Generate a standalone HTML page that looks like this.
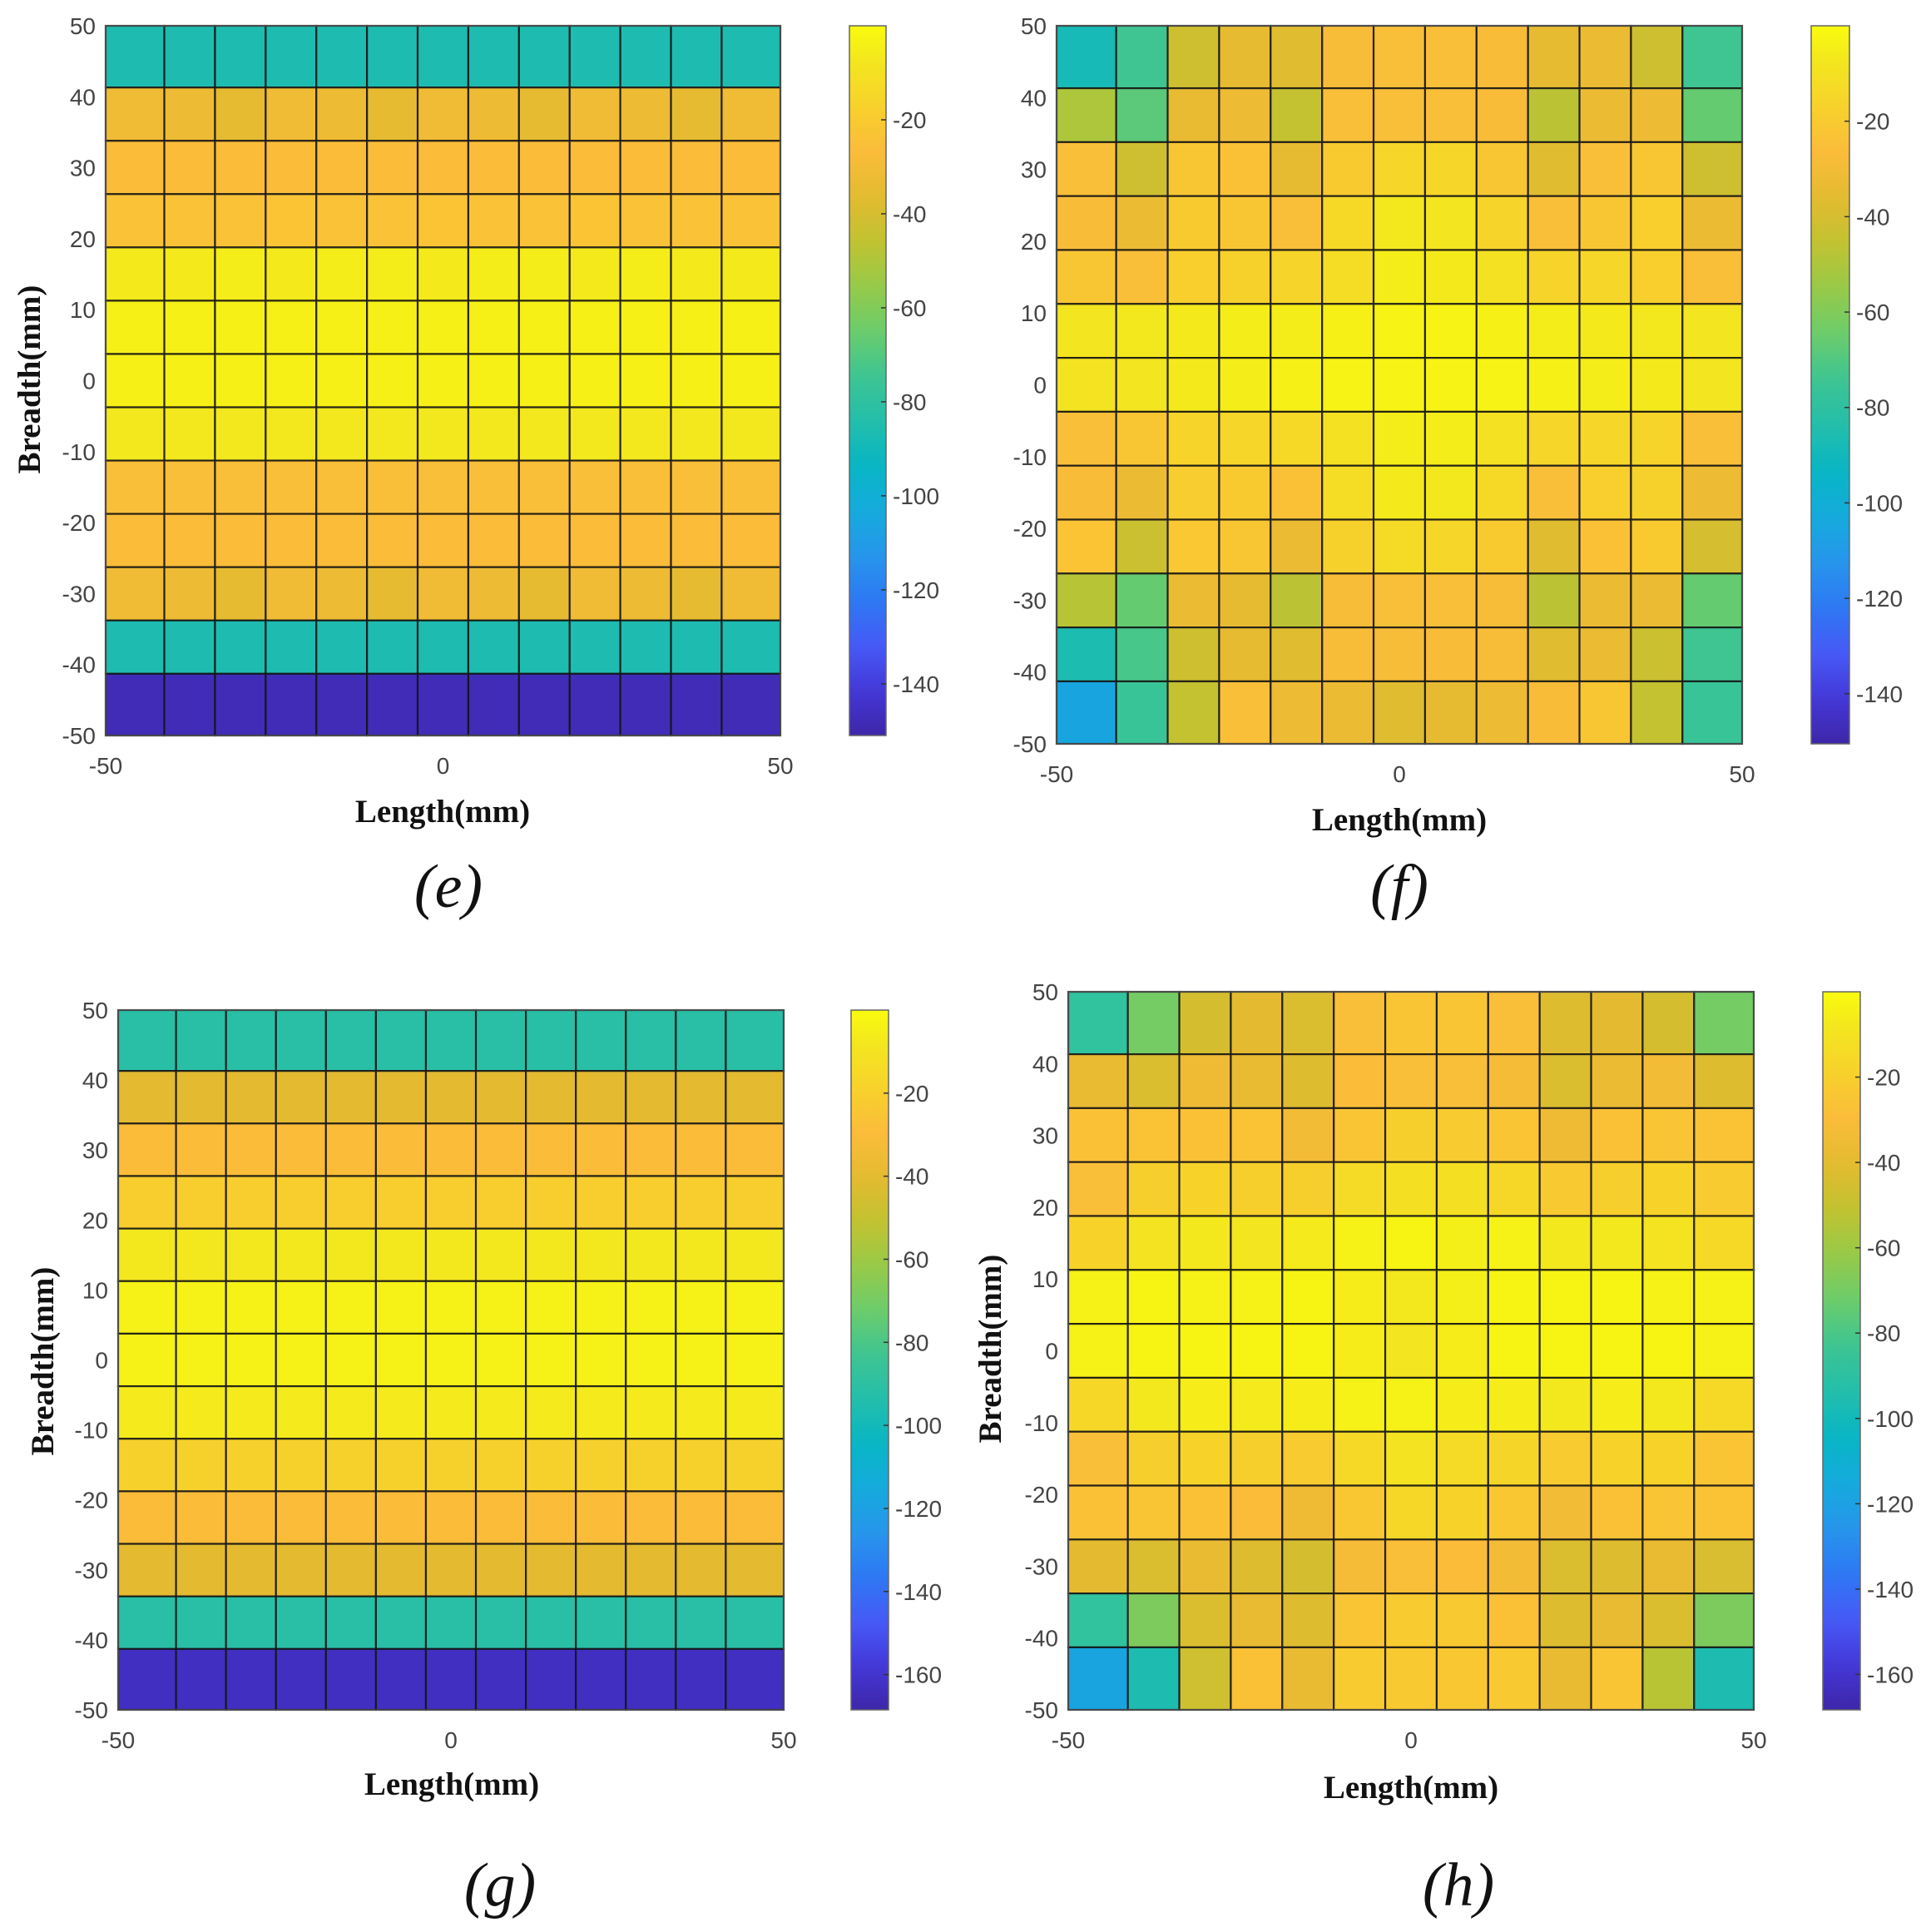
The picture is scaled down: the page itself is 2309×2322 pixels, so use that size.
<!DOCTYPE html>
<html>
<head>
<meta charset="utf-8">
<style>
  html, body { margin: 0; padding: 0; background: #fff; }
  svg { display: block; }
  .tick { font-family: "Liberation Sans", sans-serif; font-size: 28px; fill: #444; }
  .axlabel { font-family: "Liberation Serif", serif; font-size: 39px; font-weight: bold; fill: #111; }
  .caption { font-family: "Liberation Serif", serif; font-size: 74px; font-style: italic; fill: #111; }
</style>
</head>
<body>
<svg id="fig" width="2309" height="2322" viewBox="0 0 2309 2322" xmlns="http://www.w3.org/2000/svg"></svg>
<script>
// ---- data (rows top -> bottom, columns left -> right) ----
const eValues = [
  [-86,-86,-86,-86,-86,-86,-86,-86,-86,-86,-86,-86,-86],
  [-31,-32,-35,-31,-32,-35,-31,-32,-35,-31,-32,-35,-31],
  [-27,-27,-27,-27,-26,-27,-27,-26,-27,-27,-27,-27,-27],
  [-24,-24,-24,-23,-24,-24,-23,-24,-24,-23,-24,-24,-24],
  [-6,-6,-5,-6,-5,-5,-6,-5,-5,-6,-5,-6,-6],
  [-4,-4,-4,-4,-4,-4,-4,-4,-4,-4,-4,-4,-4],
  [-4,-4,-4,-4,-4,-4,-4,-4,-4,-4,-4,-4,-4],
  [-7,-7,-7,-7,-7,-7,-7,-7,-7,-7,-7,-7,-7],
  [-25,-25,-25,-25,-25,-25,-25,-25,-25,-25,-25,-25,-25],
  [-27,-27,-27,-27,-27,-27,-27,-27,-27,-27,-27,-27,-27],
  [-31,-32,-35,-31,-32,-35,-31,-32,-35,-31,-32,-35,-31],
  [-86,-86,-86,-86,-86,-86,-86,-86,-86,-86,-86,-86,-86],
  [-148,-148,-148,-148,-148,-148,-148,-148,-148,-148,-148,-148,-148]
];
const fValues = [
  [-88,-74,-42,-35,-37,-28,-25,-25,-27,-35,-33,-42,-74],
  [-50,-68,-34,-32,-45,-25,-25,-25,-27,-47,-33,-32,-66],
  [-25,-42,-22,-24,-35,-20,-15,-15,-22,-37,-25,-22,-42],
  [-27,-33,-20,-22,-25,-14,-7,-8,-16,-25,-22,-18,-33],
  [-22,-25,-18,-17,-16,-12,-5,-6,-10,-16,-15,-18,-25],
  [-8,-7,-6,-5,-5,-4,-3,-3,-4,-5,-6,-7,-8],
  [-9,-8,-6,-5,-4,-3,-3,-3,-3,-4,-5,-6,-8],
  [-25,-22,-16,-15,-14,-10,-5,-5,-10,-15,-15,-16,-25],
  [-27,-33,-19,-20,-24,-12,-6,-7,-14,-25,-18,-17,-32],
  [-23,-43,-21,-22,-33,-17,-13,-15,-20,-37,-24,-20,-40],
  [-48,-66,-33,-35,-47,-28,-25,-25,-28,-47,-33,-33,-66],
  [-86,-72,-42,-35,-37,-28,-28,-27,-28,-37,-33,-43,-74],
  [-105,-76,-45,-25,-32,-33,-37,-35,-32,-27,-22,-45,-76]
];
const gValues = [
  [-92,-92,-92,-92,-92,-92,-92,-92,-92,-92,-92,-92,-92],
  [-40,-40,-40,-40,-40,-40,-40,-40,-40,-40,-40,-40,-40],
  [-29,-29,-29,-29,-29,-29,-29,-29,-29,-29,-29,-29,-29],
  [-21,-21,-21,-21,-21,-21,-21,-21,-21,-21,-21,-21,-21],
  [-8,-8,-8,-8,-8,-8,-8,-8,-8,-8,-8,-8,-8],
  [-4,-4,-4,-4,-4,-4,-4,-4,-4,-4,-4,-4,-4],
  [-4,-4,-4,-4,-4,-4,-4,-4,-4,-4,-4,-4,-4],
  [-7,-7,-7,-7,-7,-7,-7,-7,-7,-7,-7,-7,-7],
  [-19,-19,-19,-19,-19,-19,-19,-19,-19,-19,-19,-19,-19],
  [-29,-29,-29,-29,-29,-29,-29,-29,-29,-29,-29,-29,-29],
  [-40,-40,-40,-40,-40,-40,-40,-40,-40,-40,-40,-40,-40],
  [-92,-92,-92,-92,-92,-92,-92,-92,-92,-92,-92,-92,-92],
  [-163,-163,-163,-163,-163,-163,-163,-163,-163,-163,-163,-163,-163]
];
const hValues = [
  [-88,-70,-45,-40,-43,-28,-25,-25,-28,-42,-40,-45,-70],
  [-38,-43,-35,-38,-42,-30,-28,-28,-32,-43,-37,-33,-42],
  [-27,-26,-27,-26,-33,-25,-20,-22,-25,-35,-27,-25,-26],
  [-28,-20,-18,-20,-20,-14,-12,-12,-16,-23,-20,-18,-22],
  [-18,-10,-8,-9,-7,-4,-3,-5,-4,-8,-8,-10,-15],
  [-4,-3,-4,-4,-3,-6,-8,-5,-3,-3,-3,-4,-4],
  [-4,-3,-3,-3,-3,-6,-9,-6,-3,-3,-3,-3,-4],
  [-16,-8,-6,-7,-6,-4,-4,-6,-6,-8,-6,-8,-15],
  [-28,-20,-18,-20,-22,-15,-10,-14,-17,-22,-18,-18,-25],
  [-27,-25,-27,-30,-35,-24,-16,-18,-24,-33,-27,-25,-26],
  [-40,-43,-38,-42,-45,-32,-28,-30,-33,-43,-42,-38,-44],
  [-88,-68,-43,-38,-42,-25,-22,-23,-27,-42,-38,-43,-68],
  [-118,-96,-47,-27,-38,-22,-23,-24,-23,-38,-25,-53,-96]
];
const xTicks = [-50, 0, 50];
const yTicks = [50, 40, 30, 20, 10, 0, -10, -20, -30, -40, -50];
const cbTicksEF = [-20, -40, -60, -80, -100, -120, -140];
const cbTicksGH = [-20, -40, -60, -80, -100, -120, -140, -160];
const climE = [-151, 0];
const climF = [-150.5, 0];
const climG = [-168.5, 0];
const climH = [-168.3, 0];

// ---- parula approximation ----
const PAR = [
  [0.0,[62,38,168]],[0.063,[68,56,216]],[0.127,[70,90,246]],[0.19,[45,120,243]],
  [0.254,[39,150,235]],[0.317,[20,170,220]],[0.381,[8,182,196]],[0.444,[36,190,170]],
  [0.508,[62,197,146]],[0.571,[108,204,107]],[0.635,[152,202,72]],[0.698,[194,194,48]],
  [0.762,[228,187,48]],[0.825,[251,188,58]],[0.889,[247,210,43]],[0.952,[243,231,30]],
  [1.0,[249,251,14]]
];
function parula(t) {
  t = Math.max(0, Math.min(1, t));
  for (let i = 1; i < PAR.length; i++) {
    if (t <= PAR[i][0]) {
      const a = PAR[i-1], b = PAR[i], f = (t - a[0]) / (b[0] - a[0]);
      const c = a[1].map((v, k) => Math.round(v + (b[1][k] - v) * f));
      return `rgb(${c[0]},${c[1]},${c[2]})`;
    }
  }
  return 'rgb(249,251,14)';
}

const NS = 'http://www.w3.org/2000/svg';
const svg = document.getElementById('fig');
function mk(tag, attrs, parent) {
  const el = document.createElementNS(NS, tag);
  for (const k in attrs) el.setAttribute(k, attrs[k]);
  (parent || svg).appendChild(el);
  return el;
}
// pcolor cell edges: outer cells wider than inner ones
function edges(n) {
  const outer = 8.7, inner = (100 - 2 * outer) / (n - 2);
  const e = [-50];
  for (let i = 0; i < n; i++) e.push(e[e.length-1] + (i === 0 || i === n-1 ? outer : inner));
  e[n] = 50;
  return e;
}

function panel(id, P, vals, clim, cbTicks, ylab, xlabPos, ylabPos, capPos, capText) {
  const g = mk('g', {});
  
  
  const sx = v => P.x0 + (v + 50) / 100 * (P.x1 - P.x0);
  const sy = v => P.y1 - (v + 50) / 100 * (P.y1 - P.y0);
  const n = vals.length;
  const ex = edges(vals[0].length), ey = edges(n);
  const cmap = v => parula((v - clim[0]) / (clim[1] - clim[0]));
  for (let r = 0; r < n; r++) {
    for (let c = 0; c < vals[r].length; c++) {
      const top = ey[n - r], bot = ey[n - r - 1];
      const x = sx(ex[c]), y = sy(top);
      const cell = mk('rect', { x: x, y: y, width: sx(ex[c+1]) - x, height: sy(bot) - y,
        fill: cmap(vals[r][c]), stroke: 'rgba(20,20,20,0.85)', 'stroke-width': 2.2 }, g);
      
      
    }
  }
  const border = mk('rect', { x: P.x0, y: P.y0, width: P.x1 - P.x0, height: P.y1 - P.y0, fill: 'none', stroke: '#555', 'stroke-width': 1.5 }, g);
  
  
  yTicks.forEach(v => {
    const t = mk('text', { x: P.x0 - 12, y: sy(v) + 10, 'text-anchor': 'end', class: 'tick' }, g);
    t.textContent = String(v);
    
    
  });
  xTicks.forEach(v => {
    const t = mk('text', { x: sx(v), y: P.y1 + 46, 'text-anchor': 'middle', class: 'tick' }, g);
    t.textContent = String(v);
    
    
  });
  const xl = mk('text', { x: xlabPos[0], y: xlabPos[1], 'text-anchor': 'middle', class: 'axlabel' }, g);
  xl.textContent = 'Length(mm)';
  
  
  if (ylab) {
    const yl = mk('text', { x: 0, y: 0, 'text-anchor': 'middle', class: 'axlabel',
      transform: `translate(${ylabPos[0]},${ylabPos[1]}) rotate(-90)` }, g);
    yl.textContent = 'Breadth(mm)';
    
    
  }
  const cap = mk('text', { x: capPos[0], y: capPos[1], 'text-anchor': 'middle', class: 'caption' }, g);
  cap.textContent = capText;
  
  
  // colorbar
  const defs = mk('defs', {}, g);
  const grad = mk('linearGradient', { id: 'grad-' + id, x1: 0, y1: 1, x2: 0, y2: 0 }, defs);
  for (let i = 0; i <= 40; i++) mk('stop', { offset: i / 40, 'stop-color': parula(i / 40) }, grad);
  const cb = mk('rect', { x: P.cx0, y: P.cy0, width: P.cx1 - P.cx0, height: P.cy1 - P.cy0,
    fill: `url(#grad-${id})`, stroke: '#666', 'stroke-width': 1.5 }, g);
  
  
  const cy = v => P.cy1 - (v - clim[0]) / (clim[1] - clim[0]) * (P.cy1 - P.cy0);
  cbTicks.forEach(v => {
    const tk = mk('line', { x1: P.cx1 - 6, x2: P.cx1, y1: cy(v), y2: cy(v), stroke: '#333', 'stroke-width': 1.5 }, g);
    
    
    const t = mk('text', { x: P.cx1 + 8, y: cy(v) + 10, class: 'tick' }, g);
    t.textContent = String(v);
    
    
  });
}

panel('e', { x0: 127, x1: 938, y0: 31, y1: 884, cx0: 1021, cx1: 1065, cy0: 31, cy1: 884 },
  eValues, climE, cbTicksEF, true, [532, 988], [48, 456], [539, 1090], '(e)');
panel('f', { x0: 1270, x1: 2094, y0: 31, y1: 894, cx0: 2177, cx1: 2223, cy0: 31, cy1: 894 },
  fValues, climF, cbTicksEF, false, [1682, 998], [0, 0], [1682, 1090], '(f)');
panel('g', { x0: 142, x1: 942, y0: 1214, y1: 2055, cx0: 1023, cx1: 1068, cy0: 1214, cy1: 2055 },
  gValues, climG, cbTicksGH, true, [543, 2157], [64, 1636], [601, 2290], '(g)');
panel('h', { x0: 1284, x1: 2108, y0: 1192, y1: 2055, cx0: 2191, cx1: 2236, cy0: 1192, cy1: 2055 },
  hValues, climH, cbTicksGH, true, [1696, 2161], [1203, 1621], [1753, 2290], '(h)');
</script>
</body>
</html>
